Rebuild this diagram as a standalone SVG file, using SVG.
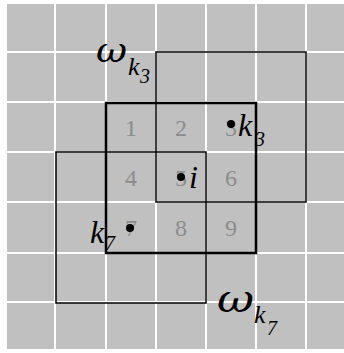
<svg xmlns="http://www.w3.org/2000/svg" width="344" height="353" viewBox="0 0 344 353">
<style>
.grid line{stroke:#ffffff;stroke-width:2}
.win{fill:none;stroke:#000000;stroke-width:1.5}
.main{fill:none;stroke:#000000;stroke-width:2.5}
.num{font-family:"Liberation Serif",serif;font-size:24px;fill:#8c8c8c;text-anchor:middle}
.it{font-family:"Liberation Serif",serif;font-style:italic;fill:#000000}
.om{font-family:"DejaVu Serif",serif;font-style:italic;fill:#000000}
.sub{font-family:"Liberation Serif",serif;font-style:italic;fill:#000000}
.dot{fill:#000000}
</style>
<rect x="0" y="0" width="344" height="353" fill="#ffffff"/>
<g id="grid" class="grid">
<rect x="7" y="4" width="337" height="345" fill="#c0c0c0"/>
<line x1="55" y1="0" x2="55" y2="353"/>
<line x1="106" y1="0" x2="106" y2="353"/>
<line x1="156" y1="0" x2="156" y2="353"/>
<line x1="206" y1="0" x2="206" y2="353"/>
<line x1="256" y1="0" x2="256" y2="353"/>
<line x1="306" y1="0" x2="306" y2="353"/>
<line x1="0" y1="52" x2="344" y2="52"/>
<line x1="0" y1="102" x2="344" y2="102"/>
<line x1="0" y1="152" x2="344" y2="152"/>
<line x1="0" y1="202" x2="344" y2="202"/>
<line x1="0" y1="253" x2="344" y2="253"/>
<line x1="0" y1="302" x2="344" y2="302"/>
</g>
<g id="numbers">
<text class="num" x="131" y="136">1</text>
<text class="num" x="181" y="136">2</text>
<text class="num" x="231" y="136">3</text>
<text class="num" x="131" y="186">4</text>
<text class="num" x="181" y="186">5</text>
<text class="num" x="231" y="186">6</text>
<text class="num" x="131" y="236">7</text>
<text class="num" x="181" y="236">8</text>
<text class="num" x="231" y="236">9</text>
</g>
<g id="windows">
<rect id="omega-k3-window" class="win" x="156" y="52" width="150" height="150"/>
<rect id="omega-k7-window" class="win" x="56" y="152" width="150" height="151"/>
<rect id="center-window" class="main" x="106" y="103" width="150" height="150"/>
</g>
<g id="node-k3">
<circle class="dot" cx="231" cy="124" r="4"/>
<text class="it" x="238" y="136" font-size="32">k</text>
<text class="sub" x="255" y="146" font-size="20">3</text>
</g>
<g id="node-i">
<circle class="dot" cx="181" cy="177" r="4"/>
<text class="it" x="189" y="188" font-size="32">i</text>
</g>
<g id="node-k7">
<circle class="dot" cx="130" cy="228" r="4"/>
<text class="it" x="90" y="243" font-size="32">k</text>
<text class="sub" x="105" y="250" font-size="20">7</text>
</g>
<g id="label-omega-k3">
<text class="om" x="96" y="62" font-size="36" textLength="31" lengthAdjust="spacingAndGlyphs">ω</text>
<text class="it" x="128" y="75" font-size="26">k</text>
<text class="sub" x="140" y="83" font-size="20">3</text>
</g>
<g id="label-omega-k7">
<text class="om" x="217" y="312" font-size="40" textLength="37" lengthAdjust="spacingAndGlyphs">ω</text>
<text class="it" x="254" y="323" font-size="26">k</text>
<text class="sub" x="267" y="335" font-size="20">7</text>
</g>
<g id="connectors"></g>
</svg>
